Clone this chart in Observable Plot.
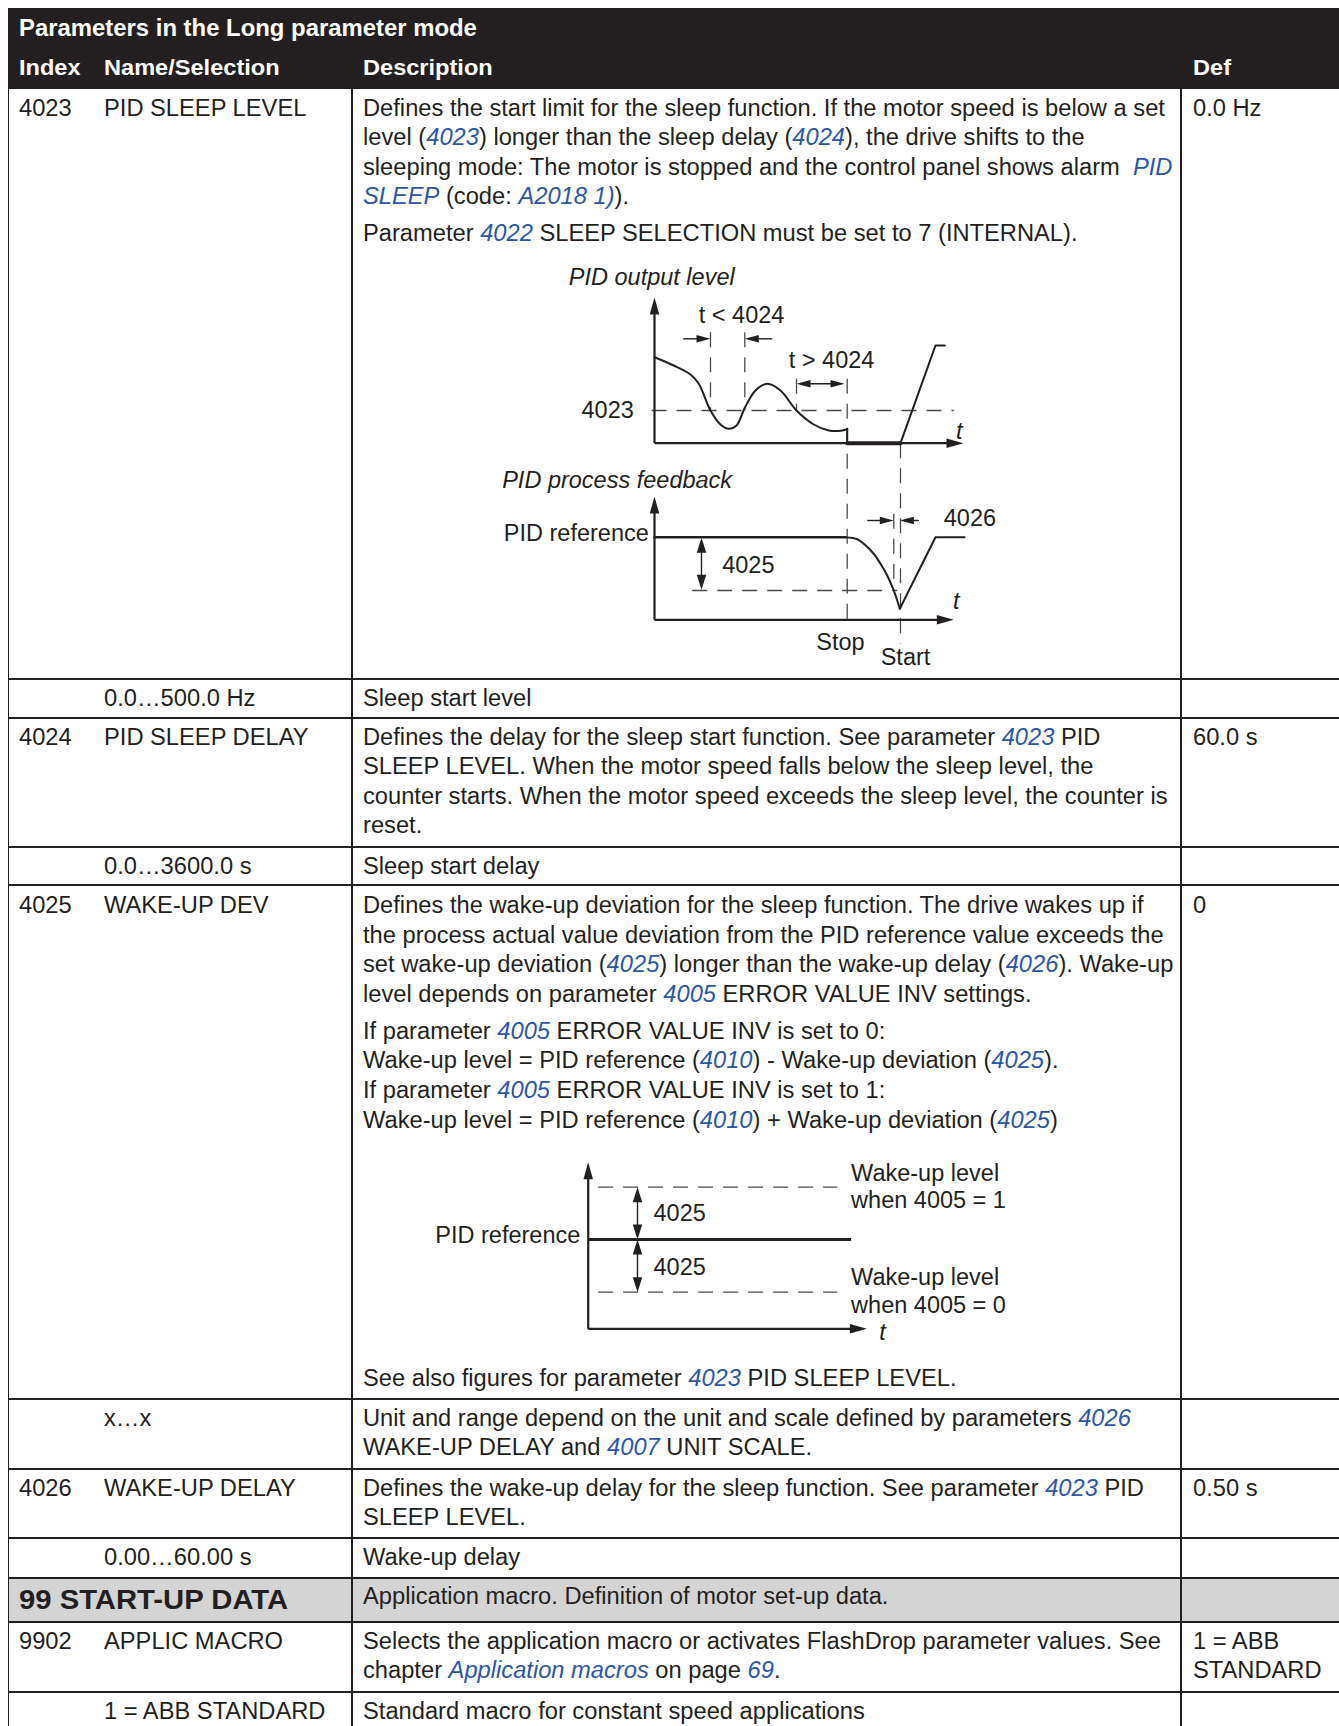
<!DOCTYPE html>
<html><head><meta charset="utf-8">
<script src="https://cdn.jsdelivr.net/npm/d3@7"></script>
<script src="https://cdn.jsdelivr.net/npm/@observablehq/plot@0.6"></script>
<style>
html,body{margin:0;padding:0;background:#fff;}
body{width:1339px;height:1726px;overflow:hidden;position:relative;font-family:"Liberation Sans",Arial,Helvetica,sans-serif;color:#231f20;}
.t{position:absolute;white-space:pre;font-size:23px;line-height:29.6px;transform:scaleX(1.03);transform-origin:0 0;}
.t i{color:#2c56a6;font-style:italic;}
.hd{color:#fff;font-weight:bold;font-size:22.9px;}
.hd1{font-size:23.2px;}
.big{font-weight:bold;font-size:28.4px;}
.box{position:absolute;}
.dia{position:absolute;overflow:visible;}
</style>
</head><body>
<script>
// ---------------- table data ----------------
const headerTitle = "Parameters in the Long parameter mode";
const headerCols = ["Index", "Name/Selection", "Description", "Def"];
const rowIndex = ["4023", "", "4024", "", "4025", "", "4026", "", "", "9902", ""];
const rowName = ["PID SLEEP LEVEL", "0.0…500.0 Hz", "PID SLEEP DELAY", "0.0…3600.0 s", "WAKE-UP DEV", "x…x",
  "WAKE-UP DELAY", "0.00…60.00 s", "99 START-UP DATA", "APPLIC MACRO", "1 = ABB STANDARD"];
const rowDef = [["0.0 Hz"], [], ["60.0 s"], [], ["0"], [], ["0.50 s"], [], [], ["1 = ABB", "STANDARD"], []];
const rowDesc = [
  [["Defines the start limit for the sleep function. If the motor speed is below a set",
    "level ({4023}) longer than the sleep delay ({4024}), the drive shifts to the",
    "sleeping mode: The motor is stopped and the control panel shows alarm  {PID}",
    "{SLEEP} (code: {A2018 1)})."],
   ["Parameter {4022} SLEEP SELECTION must be set to 7 (INTERNAL)."]],
  [["Sleep start level"]],
  [["Defines the delay for the sleep start function. See parameter {4023} PID",
    "SLEEP LEVEL. When the motor speed falls below the sleep level, the",
    "counter starts. When the motor speed exceeds the sleep level, the counter is",
    "reset."]],
  [["Sleep start delay"]],
  [["Defines the wake-up deviation for the sleep function. The drive wakes up if",
    "the process actual value deviation from the PID reference value exceeds the",
    "set wake-up deviation ({4025}) longer than the wake-up delay ({4026}). Wake-up",
    "level depends on parameter {4005} ERROR VALUE INV settings."],
   ["If parameter {4005} ERROR VALUE INV is set to 0:",
    "Wake-up level = PID reference ({4010}) - Wake-up deviation ({4025}).",
    "If parameter {4005} ERROR VALUE INV is set to 1:",
    "Wake-up level = PID reference ({4010}) + Wake-up deviation ({4025})"]],
  [["Unit and range depend on the unit and scale defined by parameters {4026}",
    "WAKE-UP DELAY and {4007} UNIT SCALE."]],
  [["Defines the wake-up delay for the sleep function. See parameter {4023} PID",
    "SLEEP LEVEL."]],
  [["Wake-up delay"]],
  [["Application macro. Definition of motor set-up data."]],
  [["Selects the application macro or activates FlashDrop parameter values. See",
    "chapter {Application macros} on page {69}."]],
  [["Standard macro for constant speed applications"]]
];
const seeAlso4025 = "See also figures for parameter {4023} PID SLEEP LEVEL.";

// ---------------- diagram data (t = time units, v = level units) ----------------
const outputCurve = [[0,262.6],[19.3,254.3],[36,245.3],[44.3,236],[56,209.3],[66,195.3],[74.3,191],[82,194.3],
  [90.3,212],[101,229.3],[112.7,236],[126,229.3],[142,209.3],[159.3,195.3],[174.3,189.3],[187.7,189.3],[192.7,191]];
const outputStop = [[192.7,191],[192.7,176.6]];
const outputSleep = [[192.7,176.6],[246,176.6]];
const outputRestart = [[246,176.6],[281,274.3],[290.3,274.3]];
const feedbackFlat = [[0,82.6],[191,82.6]];
const feedbackDip = [[191,82.6],[202.7,80.6],[209.3,76],[219.3,66],[226,56],[232.7,44.3],[239.3,29.3],[245.3,11]];
const feedbackRecover = [[245.3,11],[281,82.6],[310,82.6]];
const sleepLevel4023 = 209.3;
const wakeLevel4025 = 29.3;

const wakeRef = 89.3;
const wakeHigh = 141.6;
const wakeLow = 36.6;

// ---------------- page layout ----------------
const ink = "#231f20";
const rowTop = [89, 679, 718, 847, 885, 1399, 1469, 1538, 1578, 1622, 1692, 1740];
const rowPad = [4.7, 4.7, 4.7, 4.7, 6, 4.7, 4.7, 4.7, 4.7, 4.7, 4.7];
const paraGap = [6.8, 0, 0, 0, 7.4, 0, 0, 0, 0, 0, 0];
const LH = 29.6;

function rich(s) { return s.replace(/\{([^}]*)\}/g, "<i>$1</i>"); }
function el(cls, left, top, html, extra) {
  const d = document.createElement("div");
  d.className = cls; d.style.left = left + "px"; d.style.top = top + "px";
  d.innerHTML = html; if (extra) Object.assign(d.style, extra);
  document.body.appendChild(d); return d;
}
function box(left, top, w, h, bg) { return el("box", left, top, "", {width: w + "px", height: h + "px", background: bg}); }

// header
box(7.5, 7.5, 1340, 81.5, ink);
el("t hd hd1", 19, 28.3 - LH / 2, headerTitle);
[19, 103.5, 363, 1192.5].forEach((x, i) => el("t hd", x, 67.4 - LH / 2, headerCols[i]));

// gray group row
box(8, rowTop[8], 1340, rowTop[9] - rowTop[8], "#d4d4d4");

// rows
rowName.forEach((nm, i) => {
  const top = rowTop[i] + rowPad[i];
  if (i === 8) {
    el("t big", 19, 1599.5 - LH / 2, nm);
  } else {
    if (rowIndex[i]) el("t", 19, top, rowIndex[i]);
    el("t", 103.5, top, nm);
  }
  let y = (i === 8) ? 1597 - LH / 2 : top;
  rowDesc[i].forEach(p => {
    el("t", 363, y, p.map(rich).join("<br>"));
    y += p.length * LH + paraGap[i];
  });
  if (rowDef[i].length) el("t", 1192.5, top, rowDef[i].join("<br>"));
});
el("t", 363, 1378.5 - LH / 2, rich(seeAlso4025));

// grid lines
rowTop.slice(1, 11).forEach(y => box(8, y - 0.7, 1340, 1.4, ink));
[8.2, 352, 1181].forEach(x => box(x - 0.7, 89, 1.4, 1726 - 89, ink));

// ---------------- diagrams ----------------
function head(L, W) {
  return {draw(ctx) { ctx.moveTo(0, 0); ctx.lineTo(-W / 2, L); ctx.lineTo(W / 2, L); ctx.closePath(); }};
}
const axisHead = head(17, 9.5), dimHead = head(14, 7.5), vHead = head(15, 9.5);
const pts = a => a.map(([t, v]) => ({t, v}));
const font = "Liberation Sans, Arial, Helvetica, sans-serif";

function place(svg, left, top) {
  svg.classList.add("dia"); svg.style.left = left + "px"; svg.style.top = top + "px";
  document.body.appendChild(svg);
}

// Diagram A: PID output level + PID process feedback
const axesA = [
  {x1: 0, y1: 176.6, x2: 0, y2: 308}, {x1: 0, y1: 176.6, x2: 294, y2: 176.6},
  {x1: 0, y1: 0, x2: 0, y2: 109}, {x1: 0, y1: 0, x2: 284, y2: 0}
];
const axisHeadsA = [{t: 0, v: 322.3, r: 0}, {t: 309, v: 176.6, r: 90}, {t: 0, v: 123.3, r: 0}, {t: 299.3, v: 0, r: 90}];
const dashA = [
  {x1: -3, y1: sleepLevel4023, x2: 299.3, y2: sleepLevel4023},
  {x1: 56, y1: 287.6, x2: 56, y2: sleepLevel4023},
  {x1: 90.3, y1: 287.6, x2: 90.3, y2: sleepLevel4023},
  {x1: 142, y1: 241, x2: 142, y2: sleepLevel4023},
  {x1: 192.7, y1: 241, x2: 192.7, y2: -5.7},
  {x1: 246, y1: 176.6, x2: 246, y2: -24},
  {x1: 37.7, y1: wakeLevel4025, x2: 242.7, y2: wakeLevel4025},
  {x1: 239.3, y1: 106, x2: 239.3, y2: wakeLevel4025}
];
const dimA = [
  {x1: 28.7, y1: 281, x2: 50, y2: 281}, {x1: 117.7, y1: 281, x2: 96, y2: 281},
  {x1: 146, y1: 236, x2: 186, y2: 236},
  {x1: 212.7, y1: 99.3, x2: 234, y2: 99.3}, {x1: 264.3, y1: 99.3, x2: 250, y2: 99.3}
];
const dimHeadsA = [{t: 56, v: 281, r: 90}, {t: 90.3, v: 281, r: -90}, {t: 142, v: 236, r: -90}, {t: 190, v: 236, r: 90},
  {t: 239.3, v: 99.3, r: 90}, {t: 245.3, v: 99.3, r: -90}];
const vArrowA = [{x1: 47, y1: 70, x2: 47, y2: 42}];
const vHeadsA = [{t: 47, v: 82, r: 0}, {t: 47, v: 30, r: 180}];
const labelsA = [
  {t: -85.7, v: 342.6, s: "PID output level", a: "start", i: true},
  {t: 44.3, v: 304.3, s: "t < 4024", a: "start"},
  {t: 134.3, v: 259.3, s: "t > 4024", a: "start"},
  {t: -20.7, v: 209, s: "4023", a: "end"},
  {t: 304.7, v: 188, s: "t", a: "middle", i: true},
  {t: -152.3, v: 139.3, s: "PID process feedback", a: "start", i: true},
  {t: -5.7, v: 86, s: "PID reference", a: "end"},
  {t: 67.7, v: 54.3, s: "4025", a: "start"},
  {t: 289.3, v: 101, s: "4026", a: "start"},
  {t: 301.8, v: 18, s: "t", a: "middle", i: true},
  {t: 186, v: -22.4, s: "Stop", a: "middle"},
  {t: 251, v: -37.4, s: "Start", a: "middle"}
];

function anchorMarks(labels) {
  const out = [];
  for (const a of ["start", "middle", "end"]) {
    for (const it of [false, true]) {
      const sub = labels.filter(d => d.a === a && !!d.i === it);
      if (sub.length) out.push(Plot.text(sub, {x: "t", y: "v", text: "s", textAnchor: a, fontSize: 23.5, fontStyle: it ? "italic" : "normal", fill: ink}));
    }
  }
  return out;
}
const L = (data, o) => Plot.link(data, {x1: "x1", y1: "y1", x2: "x2", y2: "y2", stroke: ink, ...o});
const H = (data, sym) => Plot.dot(data, {x: "t", y: "v", rotate: "r", symbol: sym, r: 6, fill: ink, stroke: "none"});
const C = (data, o) => Plot.line(pts(data), {x: "t", y: "v", stroke: ink, strokeWidth: 2, ...o});

const plotA = Plot.plot({
  width: 540, height: 420, margin: 0,
  x: {type: "linear", domain: [-174, 366], axis: null},
  y: {type: "linear", domain: [-50.7, 369.3], axis: null},
  style: {fontFamily: font, color: ink, background: "transparent", overflow: "visible"},
  marks: [
    L(dashA, {stroke: "#4a4a4a", strokeWidth: 1.3, strokeDasharray: "15,10"}),
    L(axesA, {strokeWidth: 2.2}),
    H(axisHeadsA, axisHead),
    C(outputCurve, {curve: "catmull-rom"}),
    C(outputStop),
    C(outputSleep, {strokeWidth: 4}),
    C(outputRestart),
    C(feedbackFlat, {strokeWidth: 2.4}),
    C(feedbackDip, {curve: "catmull-rom"}),
    C(feedbackRecover),
    L(dimA, {strokeWidth: 1.4}),
    H(dimHeadsA, dimHead),
    L(vArrowA, {strokeWidth: 1.4}),
    H(vHeadsA, vHead),
    ...anchorMarks(labelsA)
  ]
});
place(plotA, 480, 250);

// Diagram B: wake-up levels
const axesB = [{x1: 0, y1: 0, x2: 0, y2: 151}, {x1: 0, y1: 0, x2: 263, y2: 0}];
const axisHeadsB = [{t: 0, v: 166.6, r: 0}, {t: 278.7, v: 0, r: 90}];
const refB = [{x1: 0, y1: wakeRef, x2: 262.9, y2: wakeRef}];
const dashB = [{x1: 9.9, y1: wakeHigh, x2: 249.1, y2: wakeHigh}, {x1: 9.9, y1: wakeLow, x2: 249.1, y2: wakeLow}];
const vArrowB = [{x1: 49.3, y1: wakeHigh - 12, x2: 49.3, y2: wakeRef + 12}, {x1: 49.3, y1: wakeRef - 12, x2: 49.3, y2: wakeLow + 12}];
const vHeadsB = [{t: 49.3, v: wakeHigh, r: 0}, {t: 49.3, v: wakeRef, r: 180}, {t: 49.3, v: wakeRef, r: 0}, {t: 49.3, v: wakeLow, r: 180}];
const labelsB = [
  {t: -7.9, v: 93.3, s: "PID reference", a: "end"},
  {t: 65.3, v: 115.6, s: "4025", a: "start"},
  {t: 65.3, v: 61.6, s: "4025", a: "start"},
  {t: 262.9, v: 155, s: "Wake-up level", a: "start"},
  {t: 262.9, v: 128.3, s: "when 4005 = 1", a: "start"},
  {t: 262.9, v: 51.6, s: "Wake-up level", a: "start"},
  {t: 262.9, v: 23.3, s: "when 4005 = 0", a: "start"},
  {t: 294.3, v: -3.4, s: "t", a: "middle", i: true}
];
const plotB = Plot.plot({
  width: 520, height: 200, margin: 0,
  x: {type: "linear", domain: [-167.7, 352.3], axis: null},
  y: {type: "linear", domain: [-21.7, 178.3], axis: null},
  style: {fontFamily: font, color: ink, background: "transparent", overflow: "visible"},
  marks: [
    L(dashB, {stroke: "#4a4a4a", strokeWidth: 1.3, strokeDasharray: "15,10"}),
    L(axesB, {strokeWidth: 2.2}),
    H(axisHeadsB, axisHead),
    L(refB, {strokeWidth: 3}),
    L(vArrowB, {strokeWidth: 1.4}),
    H(vHeadsB, vHead),
    ...anchorMarks(labelsB)
  ]
});
place(plotB, 420, 1150);
</script>
</body></html>
